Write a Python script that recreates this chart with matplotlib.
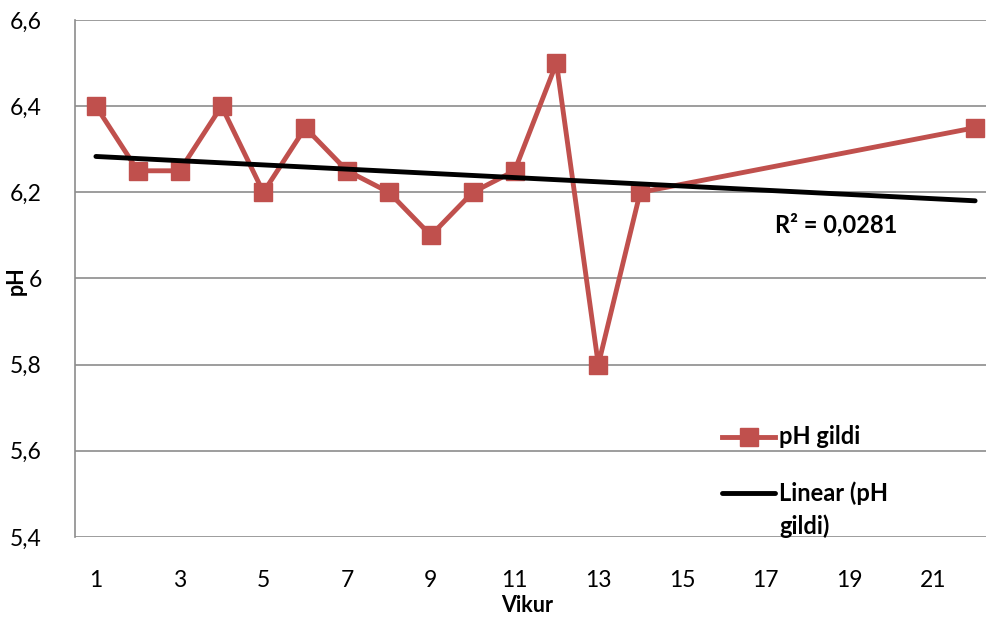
import numpy as np
import matplotlib.pyplot as plt
from matplotlib.lines import Line2D
from matplotlib.ticker import FuncFormatter

plt.rcParams['font.family'] = ['Lato', 'DejaVu Sans']

# Data
weeks = [1, 2, 3, 4, 5, 6, 7, 8, 9, 10, 11, 12, 13, 14, 22]
ph_values = [6.4, 6.25, 6.25, 6.4, 6.2, 6.35, 6.25, 6.2, 6.1, 6.2, 6.25, 6.5, 5.8, 6.2, 6.35]
x_ticks = [1, 3, 5, 7, 9, 11, 13, 15, 17, 19, 21]
y_ticks = [5.4, 5.6, 5.8, 6.0, 6.2, 6.4, 6.6]
r2_label = "R² = 0,0281"

W, H = 986, 619
red = '#C0504D'

fig = plt.figure(figsize=(W / 100, H / 100), dpi=100)
ax = fig.add_axes([75 / W, 1 - 537 / H, 1 - 75 / W, (537 - 20) / H])


def px(x, y):
    # pixel position (origin top-left) -> figure fraction
    return x / W, 1 - y / H


def ph_fmt(v, pos):
    s = f"{v:.1f}".replace('.', ',')
    return '6' if s == '6,0' else s


# Linear trend line
coef = np.polyfit(weeks, ph_values, 1)
trend_x = np.array([min(weeks), max(weeks)])
trend_y = np.polyval(coef, trend_x)

ax.plot(weeks, ph_values, color=red, linewidth=3.5, marker='s',
        markersize=13, zorder=3)
ax.plot(trend_x, trend_y, color='black', linewidth=3.5, solid_capstyle='round', zorder=4)

ax.set_xlim(0.5, 22.26)
ax.set_ylim(5.4, 6.6)
ax.set_xticks(x_ticks)
ax.set_yticks(y_ticks)
ax.yaxis.set_major_formatter(FuncFormatter(ph_fmt))
ax.tick_params(axis='y', labelsize=16.5, length=0, pad=24)
ax.tick_params(axis='x', labelsize=16.5, length=0, pad=24)

ax.grid(axis='y', color='#8c8c8c', linewidth=1.2)
ax.set_axisbelow(True)
for side in ['top', 'right', 'bottom']:
    ax.spines[side].set_visible(False)
ax.spines['left'].set_color('#8c8c8c')
ax.spines['left'].set_linewidth(1.2)

fig.text(*px(527, 606), 'Vikur', fontsize=15.5, fontweight='bold', ha='center', va='center')
fig.text(*px(16, 281), 'pH', fontsize=15.5, fontweight='bold', rotation=90, ha='center', va='center')
fig.text(*px(775, 225), r2_label, fontsize=17, fontweight='bold', ha='left', va='center')

# Legend drawn by hand so the handle sits on the first text line
x0, x1 = px(722, 0)[0], px(775, 0)[0]
y_a = px(0, 437)[1]
fig.add_artist(Line2D([x0, x1], [y_a, y_a], color=red, linewidth=3.5))
fig.add_artist(Line2D([(x0 + x1) / 2], [y_a], color=red, marker='s', markersize=13))
fig.text(*px(779, 437), 'pH gildi', fontsize=17, fontweight='bold', ha='left', va='center')
y_b = px(0, 493)[1]
fig.add_artist(Line2D([x0, x1], [y_b, y_b], color='black', linewidth=3.5, solid_capstyle='round'))
fig.text(*px(779, 493), 'Linear (pH', fontsize=17, fontweight='bold', ha='left', va='center')
fig.text(*px(779, 526), 'gildi)', fontsize=17, fontweight='bold', ha='left', va='center')

fig.savefig('out.png', dpi=100)
